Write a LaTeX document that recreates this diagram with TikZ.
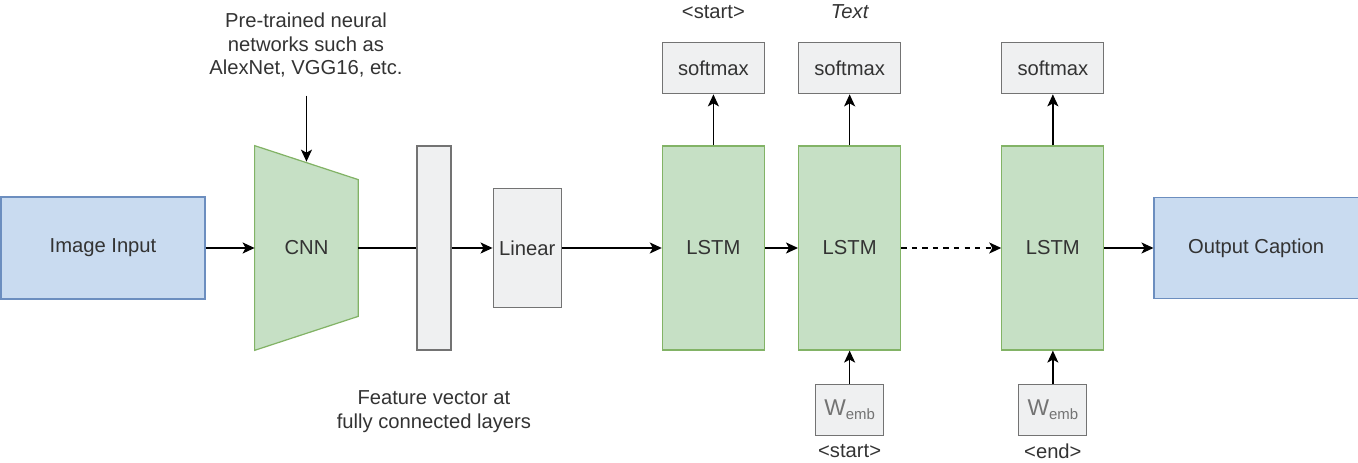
\documentclass[tikz,border=0pt]{standalone}
\usepackage{fontspec}
\setmainfont{Liberation Sans}
\usetikzlibrary{positioning,calc,arrows.meta,backgrounds}
\definecolor{blueFill}{RGB}{201,219,240}
\definecolor{blueLine}{RGB}{108,142,191}
\definecolor{greenFill}{RGB}{198,224,197}
\definecolor{greenLine}{RGB}{130,179,102}
\definecolor{greyFill}{RGB}{239,240,241}
\definecolor{greyLine}{RGB}{115,115,115}
\definecolor{txtGrey}{RGB}{51,51,51}

\begin{document}
\begin{tikzpicture}[
    x=0.2mm, y=-0.2mm,
    font=\fontsize{11.5}{13.6}\selectfont,
    text=txtGrey,
    io/.style={ draw=blueLine,
      fill=blueFill,
      line width=0.7pt,
      minimum width=40.8mm,
      minimum height=20.4mm},
    lstm/.style={ draw=greenLine,
      fill=greenFill,
      line width=0.7pt,
      minimum width=20.4mm,
      minimum height=40.8mm},
    greybox/.style={ draw=greyLine,
      fill=greyFill,
      line width=0.7pt,
      inner sep=0pt},
    lbl/.style={inner sep=0pt, align=center},
    arr/.style={-{Stealth[length=2.4mm,width=2.2mm,inset=0.6mm]}, line width=0.9pt}]
    \useasboundingbox (0,0) rectangle (1358,463);

    \node[io] (img) at (103,248) {Image Input};
    \node[minimum width=20.6mm, minimum height=40.8mm, inner sep=0pt, right=9.8mm of img] (cnn) {CNN};
    \node[greybox, minimum width=6.8mm, minimum height=40.8mm, right=11.6mm of cnn] (fv) {};
    \node[greybox, minimum width=13.6mm, minimum height=23.8mm, right=8.2mm of fv] (lin) {Linear};
    \node[lstm, right=20mm of lin] (L1) {LSTM};
    \node[lstm, right=6.6mm of L1] (L2) {LSTM};
    \node[lstm, right=20mm of L2] (L3) {LSTM};
    \node[io, minimum height=20.2mm, right=9.8mm of L3] (out) {Output Caption};

    \begin{scope}[on background layer]
      \draw[draw=greenLine, fill=greenFill, line width=0.7pt]
        (cnn.north west) -- ([yshift=-6.8mm]cnn.north east)
        -- ([yshift=6.8mm]cnn.south east) -- (cnn.south west) -- cycle;
    \end{scope}

    \node[greybox, minimum width=20.4mm, minimum height=10.2mm, above=10.2mm of L1] (S1) {softmax};
    \node[greybox, minimum width=20.4mm, minimum height=10.2mm, above=10.2mm of L2] (S2) {softmax};
    \node[greybox, minimum width=20.4mm, minimum height=10.2mm, above=10.2mm of L3] (S3) {softmax};
    \node[lbl, above=4.6mm of S1] (t1) {<start>};
    \node[lbl, above=4.6mm of S2] (t2) {\itshape Text};

    \node[greybox, text=greyLine, minimum width=13.6mm, minimum height=10.2mm, below=6.6mm of L2] (W1)
      {{\fontsize{13}{14}\selectfont W}\raisebox{-0.35ex}{\fontsize{8.5}{10}\selectfont emb}};
    \node[greybox, text=greyLine, minimum width=13.6mm, minimum height=10.2mm, below=6.6mm of L3] (W2)
      {{\fontsize{13}{14}\selectfont W}\raisebox{-0.35ex}{\fontsize{8.5}{10}\selectfont emb}};
    \node[lbl, below=1.6mm of W1] (b1) {<start>};
    \node[lbl, below=1.6mm of W2] (b2) {<end>};

    \node[lbl] (pre) at (306,45) {Pre-trained neural\\networks such as\\AlexNet, VGG16, etc.};
    \node[lbl, below=8mm of fv] (fvtxt) {Feature vector at\\fully connected layers};
    \coordinate (preEnd) at ([yshift=10mm]cnn.north);

    \draw[arr] (preEnd) -- ([yshift=-3.2mm]cnn.north);
    \draw[arr] (img) -- (cnn.west);
    \draw[line width=0.9pt] ([xshift=10.3mm]cnn.center) -- (fv);
    \draw[arr] (fv) -- (lin);
    \draw[arr] (lin) -- (L1);
    \draw[arr] (L1) -- (L2);
    \draw[arr, dashed] (L2) -- (L3);
    \draw[arr] (L3) -- (out);
    \draw[arr] (L1) -- (S1);
    \draw[arr] (L2) -- (S2);
    \draw[arr] (L3) -- (S3);
    \draw[arr] (W1) -- (L2);
    \draw[arr] (W2) -- (L3);
\end{tikzpicture}
\end{document}
